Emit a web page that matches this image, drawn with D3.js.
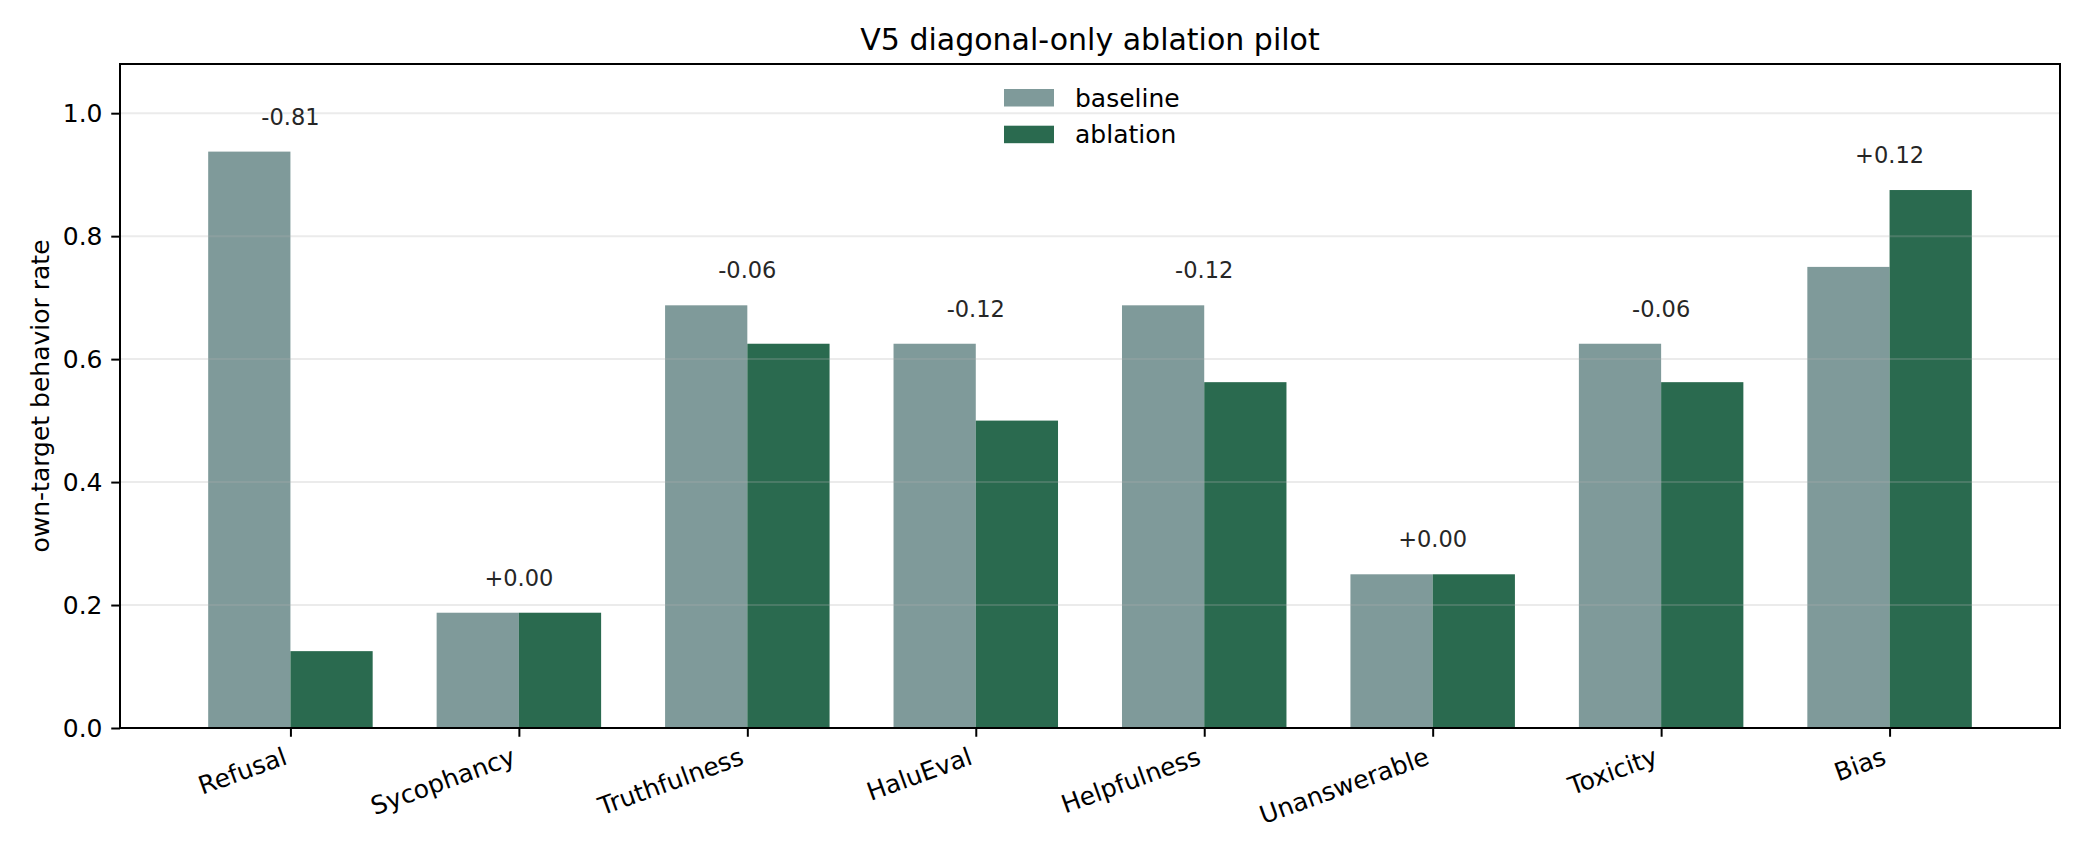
<!DOCTYPE html>
<html><head><meta charset="utf-8">
<script src="https://cdn.jsdelivr.net/npm/d3@7"></script>
<style>body{margin:0;background:#fff}svg{display:block}text{font-family:"DejaVu Sans",sans-serif}</style>
</head><body><svg id="c" width="2088" height="864"></svg>
<script>
const categories = ["Refusal","Sycophancy","Truthfulness","HaluEval","Helpfulness","Unanswerable","Toxicity","Bias"];
const baseline = [0.9375,0.1875,0.6875,0.625,0.6875,0.25,0.625,0.75];
const ablation = [0.125,0.1875,0.625,0.5,0.5625,0.25,0.5625,0.875];
const deltaLabels = ["-0.81","+0.00","-0.06","-0.12","-0.12","+0.00","-0.06","+0.12"];
const yTicks = [0.0,0.2,0.4,0.6,0.8,1.0];
const seriesNames = ["baseline","ablation"];
const colors = ["#7f9a9a","#2a6a4f"];

const svg = d3.select("#c");
const L=120,R=2060,T=64,B=728;
const barW=0.36;
const x = d3.scaleLinear().domain([-0.746,7.746]).range([L,R]);
const y = d3.scaleLinear().domain([0,1.08]).range([B,T]);
const tickLen=8.75, pad=8.75, lw=2;

// bars
const g = svg.append("g");
categories.forEach((c,i)=>{
  g.append("rect").attr("x",x(i-barW)).attr("width",x(i)-x(i-barW))
   .attr("y",y(baseline[i])).attr("height",y(0)-y(baseline[i])).attr("fill",colors[0]);
  g.append("rect").attr("x",x(i)).attr("width",x(i+barW)-x(i))
   .attr("y",y(ablation[i])).attr("height",y(0)-y(ablation[i])).attr("fill",colors[1]);
});
// grid above bars
svg.append("g").selectAll("line").data(yTicks).join("line")
  .attr("x1",L).attr("x2",R).attr("y1",d=>y(d)).attr("y2",d=>y(d))
  .attr("stroke","#b0b0b0").attr("stroke-opacity",0.25).attr("stroke-width",2);

// delta labels
categories.forEach((c,i)=>{
  const m=Math.max(baseline[i],ablation[i]);
  svg.append("text").attr("x",x(i)).attr("y",y(m)-35).attr("text-anchor","middle")
    .attr("dominant-baseline","central")
    .attr("font-size",22.5).attr("fill","#262626").text(deltaLabels[i]);
});

// axes
const yAxis = d3.axisLeft(y).tickValues(yTicks).tickFormat(d3.format(".1f")).tickSize(tickLen).tickPadding(pad);
const ya = svg.append("g").attr("transform",`translate(${L},0)`).call(yAxis);
ya.select(".domain").remove();
ya.selectAll("line").attr("stroke","#000").attr("stroke-width",lw);
ya.selectAll("text").attr("font-size",25).attr("fill","#000").attr("font-family","DejaVu Sans");

const xAxis = d3.axisBottom(x).tickValues(d3.range(categories.length)).tickFormat(()=>"").tickSize(tickLen);
const xa = svg.append("g").attr("transform",`translate(0,${B})`).call(xAxis);
xa.select(".domain").remove();
xa.selectAll("line").attr("stroke","#000").attr("stroke-width",lw);
categories.forEach((c,i)=>{
  const ax=x(i)-2, ay=B+tickLen+pad+18;
  svg.append("text").attr("transform",`translate(${ax},${ay}) rotate(-20)`)
    .attr("text-anchor","end").attr("font-size",25).attr("fill","#000").text(c);
});

// frame
svg.append("rect").attr("x",L).attr("y",T).attr("width",R-L).attr("height",B-T)
  .attr("fill","none").attr("stroke","#000").attr("stroke-width",lw);

// title
svg.append("text").attr("x",(L+R)/2).attr("y",50).attr("text-anchor","middle")
  .attr("font-size",30).attr("fill","#000").text("V5 diagonal-only ablation pilot");
// y label
svg.append("text").attr("transform",`translate(40,${(T+B)/2}) rotate(-90)`).attr("text-anchor","middle")
  .attr("dominant-baseline","central")
  .attr("font-size",25).attr("fill","#000").text("own-target behavior rate");

// legend
const cx=(L+R)/2;
seriesNames.forEach((s,k)=>{
  const yy=89+k*36.7;
  svg.append("rect").attr("x",cx-86).attr("y",yy).attr("width",50).attr("height",17.5).attr("fill",colors[k]);
  svg.append("text").attr("x",cx-15).attr("y",yy+9).attr("dominant-baseline","central")
    .attr("font-size",25).attr("fill","#000").text(s);
});
</script></body></html>
